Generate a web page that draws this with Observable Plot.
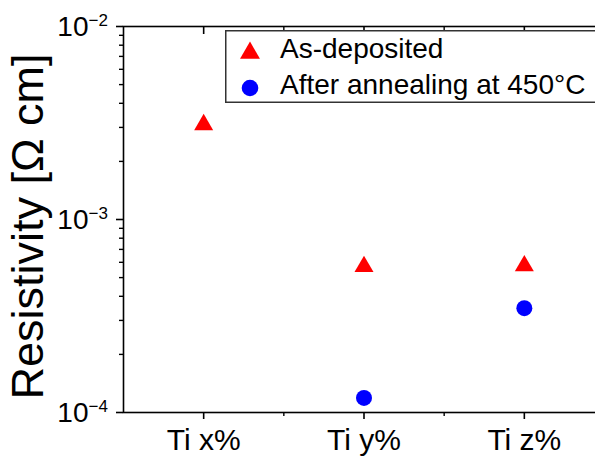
<!DOCTYPE html>
<html>
<head>
<meta charset="utf-8">
<script src="https://cdn.jsdelivr.net/npm/d3@7"></script>
<script src="https://cdn.jsdelivr.net/npm/@observablehq/plot@0.6"></script>
<style>
  html, body { margin: 0; padding: 0; background: #fff; overflow: hidden; width: 595px; height: 457px; }
  #wrap { position: relative; width: 595px; height: 457px; overflow: hidden; }
  #chart svg { max-width: none !important; }
  #legend { position: absolute; left: 225px; top: 30px; }
</style>
</head>
<body>
<div id="wrap"><div id="chart"></div><div id="legend"></div></div>
<script>
const categories = ["Ti x%", "Ti y%", "Ti z%"];
const asDepositedCats = ["Ti x%", "Ti y%", "Ti z%"];
const asDeposited = [3.1e-3, 5.7e-4, 5.75e-4];
const annealedCats = ["Ti y%", "Ti z%"];
const annealed = [1.19e-4, 3.47e-4];
const yMajor = [1e-4, 1e-3, 1e-2];
const yBase = ["10", "10", "10"];
const yExponents = ["−4", "−3", "−2"];
const yMinor = [2e-4, 3e-4, 4e-4, 5e-4, 6e-4, 7e-4, 8e-4, 9e-4,
                2e-3, 3e-3, 4e-3, 5e-3, 6e-3, 7e-3, 8e-3, 9e-3];
const xMinor = [1.5, 2.5];
const seriesNames = ["As-deposited", "After annealing at 450°C"];
const seriesColors = ["#ff0000", "#0000ff"];
const seriesSymbols = ["triangle", "circle"];

const idx = c => categories.indexOf(c) + 1;
const xTicks = categories.map(idx);

const depData = asDepositedCats.map((c, i) => ({x: idx(c), y: asDeposited[i]}));
const annData = annealedCats.map((c, i) => ({x: idx(c), y: annealed[i]}));

const font = "'Liberation Sans', Arial, Helvetica, sans-serif";

const chart = Plot.plot({
  width: 604,
  height: 457,
  marginLeft: 123,
  marginRight: 0,
  marginTop: 26,
  marginBottom: 45,
  style: {fontFamily: font, color: "black", background: "white", overflow: "visible", maxWidth: "none"},
  x: {type: "linear", domain: [0.5, 3.5]},
  y: {type: "log", domain: [1e-4, 1e-2]},
  marks: [
    Plot.axisY({ticks: yMajor, tickSize: 7, tickFormat: () => "", label: null, strokeWidth: 1.6}),
    Plot.axisY({ticks: yMinor, tickSize: 4, tickFormat: () => "", label: null, strokeWidth: 1.4}),
    Plot.text(yMajor, {y: d => d, frameAnchor: "left", text: (d, i) => yBase[i], textAnchor: "end", dx: -35, dy: 1, fontSize: 28}),
    Plot.text(yMajor, {y: d => d, frameAnchor: "left", text: (d, i) => yExponents[i], textAnchor: "start", dx: -35, dy: -6, fontSize: 17}),
    Plot.axisX({ticks: xTicks, tickSize: 7, tickPadding: 9, tickFormat: i => categories[i - 1], fontSize: 30, label: null, strokeWidth: 1.6}),
    Plot.axisX({ticks: xMinor, tickSize: 4, tickFormat: () => "", label: null, strokeWidth: 1.4}),
    Plot.axisX({anchor: "top", ticks: xTicks, tickSize: -7, tickFormat: () => "", label: null, strokeWidth: 1.6}),
    Plot.axisX({anchor: "top", ticks: xMinor, tickSize: -4, tickFormat: () => "", label: null, strokeWidth: 1.4}),
    Plot.frame({stroke: "black", strokeWidth: 1.6}),
    Plot.text(["Resistivity [Ω cm]"], {frameAnchor: "left", rotate: -90, dx: -81, dy: 7, lineAnchor: "bottom", textAnchor: "middle", fontSize: 45}),
    Plot.dot(depData, {x: "x", y: "y", symbol: "triangle", r: 7.06, fill: seriesColors[0], stroke: "none"}),
    Plot.dot(annData, {x: "x", y: "y", symbol: "circle", r: 8, fill: seriesColors[1], stroke: "none"})
  ]
});
document.getElementById("chart").appendChild(chart);

// Legend
const lw = 380, lh = 73;
const lsvg = d3.select("#legend").append("svg")
  .attr("width", lw).attr("height", lh)
  .style("display", "block").style("overflow", "visible");
lsvg.append("rect").attr("x", 0.75).attr("y", 0.75).attr("width", lw).attr("height", lh - 1.5)
  .attr("fill", "white").attr("stroke", "#333").attr("stroke-width", 1.5);
const symMap = {triangle: d3.symbolTriangle, circle: d3.symbolCircle};
const rows = [{cy: 21, base: 28}, {cy: 58, base: 64}];
seriesNames.forEach((name, i) => {
  const r = i === 0 ? 7.4 : 8.3;
  lsvg.append("path")
    .attr("d", d3.symbol(symMap[seriesSymbols[i]], Math.PI * r * r)())
    .attr("transform", `translate(25,${rows[i].cy + (i === 0 ? 2 : 0)})`)
    .attr("fill", seriesColors[i]);
  lsvg.append("text")
    .attr("x", 55).attr("y", rows[i].base)
    .attr("font-family", font).attr("font-size", 28)
    .attr("fill", "black")
    .text(name);
});
</script>
</body>
</html>
